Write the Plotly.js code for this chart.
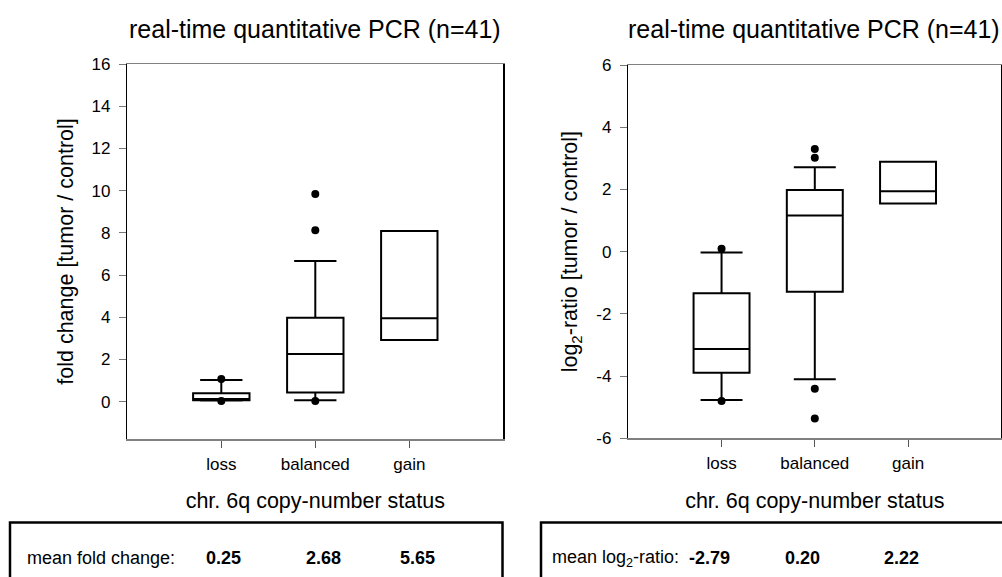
<!DOCTYPE html>
<html>
<head>
<meta charset="utf-8">
<script src="https://cdn.plot.ly/plotly-3.0.1.min.js"></script>
<style>html,body{margin:0;padding:0;background:#fff;}#chart{width:1002px;height:577px;}</style>
</head>
<body>
<div id="chart"></div>
<script>
// ---- data ----
var categories = ['loss', 'balanced', 'gain'];

// fold change (left panel)
var foldQ1 = [0.07, 0.43, 2.92];
var foldMedian = [0.12, 2.26, 3.95];
var foldQ3 = [0.40, 3.98, 8.09];
var foldLower = [0.05, 0.07, 2.92];
var foldUpper = [1.03, 6.67, 8.09];
var foldOutX = ['loss', 'loss', 'balanced', 'balanced', 'balanced'];
var foldOutY = [1.07, 0.03, 9.84, 8.12, 0.03];
var foldMeans = ['0.25', '2.68', '5.65'];

// log2-ratio (right panel)
var logQ1 = [-3.89, -1.29, 1.55];
var logMedian = [-3.13, 1.16, 1.94];
var logQ3 = [-1.34, 1.98, 2.89];
var logLower = [-4.77, -4.10, 1.55];
var logUpper = [-0.03, 2.71, 2.89];
var logOutX = ['loss', 'loss', 'balanced', 'balanced', 'balanced', 'balanced'];
var logOutY = [0.09, -4.80, 3.30, 3.02, -4.41, -5.36];
var logMeans = ['-2.79', '0.20', '2.22'];
var logTickVals = [-6, -4, -2, 0, 2, 4, 6];
var logTickText = ['-6', '-4', '-2', '0', '2', '4', '6'];

var W = 1002, H = 577;
function px(x) { return x / W; }
function py(y) { return 1 - y / H; }

var FONT = '"Liberation Sans", Arial, sans-serif';

function boxTrace(q1, med, q3, lo, hi, xa, ya) {
  return {
    type: 'box', x: categories, q1: q1, median: med, q3: q3,
    lowerfence: lo, upperfence: hi,
    xaxis: xa, yaxis: ya,
    width: 0.6, whiskerwidth: 0.75,
    line: {color: '#000', width: 2},
    fillcolor: 'rgba(255,255,255,0)',
    boxpoints: false, showlegend: false, hoverinfo: 'skip'
  };
}
function outTrace(xs, ys, xa, ya) {
  return {
    type: 'scatter', mode: 'markers', x: xs, y: ys, xaxis: xa, yaxis: ya,
    marker: {color: '#000', size: 8}, showlegend: false, hoverinfo: 'skip'
  };
}

var data = [
  boxTrace(foldQ1, foldMedian, foldQ3, foldLower, foldUpper, 'x', 'y'),
  outTrace(foldOutX, foldOutY, 'x', 'y'),
  boxTrace(logQ1, logMedian, logQ3, logLower, logUpper, 'x2', 'y2'),
  outTrace(logOutX, logOutY, 'x2', 'y2')
];

function xAxis(domain, anchor) {
  return {
    domain: domain, anchor: anchor, type: 'category',
    categoryorder: 'array', categoryarray: categories,
    range: [-1, 3], showgrid: false, zeroline: false,
    showline: true, linecolor: '#808080', linewidth: 1.5, mirror: true,
    ticks: 'outside', ticklen: 7, tickcolor: '#555', tickwidth: 1,
    ticklabelstandoff: 2,
    tickfont: {family: FONT, size: 17, color: '#000'},
    title: {text: 'chr. 6q copy-number status', font: {family: FONT, size: 21.5, color: '#000'}, standoff: 20},
    fixedrange: true
  };
}
function yAxis(domain, anchor, range, title) {
  return {
    domain: domain, anchor: anchor, range: range, dtick: 2, tick0: 0,
    showgrid: false, zeroline: false,
    showline: true, linecolor: '#000', linewidth: 1.5, mirror: true,
    ticks: 'outside', ticklen: 7, tickcolor: '#777', tickwidth: 1,
    ticklabelstandoff: 5,
    tickfont: {family: FONT, size: 17, color: '#000'},
    title: {text: title, font: {family: FONT, size: 21.5, color: '#000'}, standoff: 12},
    fixedrange: true
  };
}

var annotations = [
  {text: 'real-time quantitative PCR (n=41)', xref: 'paper', yref: 'paper',
   x: px(315), y: py(29), xanchor: 'center', yanchor: 'middle', showarrow: false,
   font: {family: FONT, size: 25, color: '#000'}},
  {text: 'real-time quantitative PCR (n=41)', xref: 'paper', yref: 'paper',
   x: px(814), y: py(29), xanchor: 'center', yanchor: 'middle', showarrow: false,
   font: {family: FONT, size: 25, color: '#000'}},
  {text: 'mean fold change:', xref: 'paper', yref: 'paper',
   x: px(25), y: py(558), xanchor: 'left', yanchor: 'middle', showarrow: false,
   font: {family: FONT, size: 18, color: '#000'}},
  {text: 'mean log<sub>2</sub>-ratio:', xref: 'paper', yref: 'paper',
   x: px(550), y: py(558), xanchor: 'left', yanchor: 'middle', showarrow: false,
   font: {family: FONT, size: 18, color: '#000'}}
];
var foldValX = [204, 304, 398];
var logValX = [687, 783, 882];
for (var i = 0; i < 3; i++) {
  annotations.push({text: '<b>' + foldMeans[i] + '</b>', xref: 'paper', yref: 'paper',
    x: px(foldValX[i]), y: py(558), xanchor: 'left', yanchor: 'middle', showarrow: false,
    font: {family: FONT, size: 18, color: '#000'}});
  annotations.push({text: '<b>' + logMeans[i] + '</b>', xref: 'paper', yref: 'paper',
    x: px(logValX[i]), y: py(558), xanchor: 'left', yanchor: 'middle', showarrow: false,
    font: {family: FONT, size: 18, color: '#000'}});
}

var shapes = [
  {type: 'path', xref: 'paper', yref: 'paper',
   path: 'M ' + px(10) + ' ' + py(590) + ' L ' + px(10) + ' ' + py(522.5) + ' L ' + px(502.5) + ' ' + py(522.5) + ' L ' + px(502.5) + ' ' + py(590),
   line: {color: '#000', width: 2.5}},
  {type: 'path', xref: 'paper', yref: 'paper',
   path: 'M ' + px(541) + ' ' + py(590) + ' L ' + px(541) + ' ' + py(522.5) + ' L ' + px(1010) + ' ' + py(522.5),
   line: {color: '#000', width: 2.5}}
];

var yaxis2 = yAxis([py(438.3), py(65)], 'x2', [-6, 6], 'log<sub>2</sub>-ratio [tumor / control]');
yaxis2.tickmode = 'array';
yaxis2.tickvals = logTickVals;
yaxis2.ticktext = logTickText;

var layout = {
  width: W, height: H,
  margin: {l: 0, r: 0, t: 0, b: 0},
  paper_bgcolor: '#fff', plot_bgcolor: '#fff',
  showlegend: false,
  xaxis: xAxis([px(127.3), px(503.3)], 'y'),
  yaxis: yAxis([py(439), py(64)], 'x', [-1.77, 16], 'fold change [tumor / control]'),
  xaxis2: xAxis([px(628.3), px(1001.3)], 'y2'),
  yaxis2: yaxis2,
  annotations: annotations,
  shapes: shapes
};

Plotly.newPlot('chart', data, layout, {displayModeBar: false, staticPlot: true});
</script>
</body>
</html>
